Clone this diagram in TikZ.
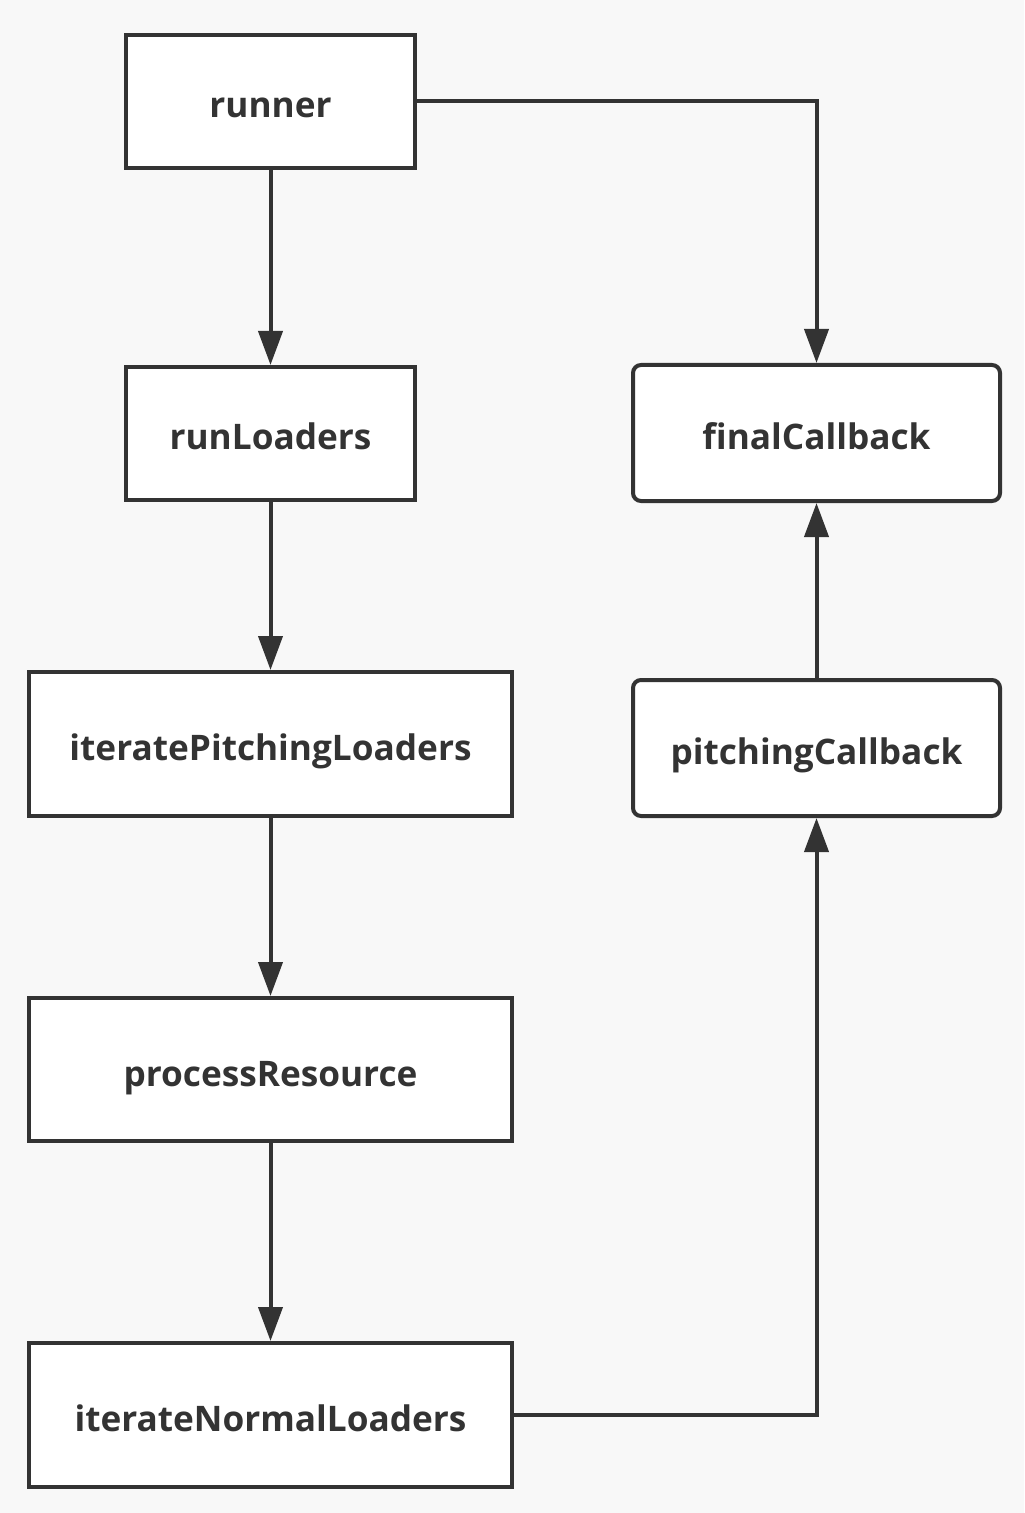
\documentclass[tikz,border=0pt]{standalone}
\usepackage{fontspec}
\setmainfont{Open Sans}
\usetikzlibrary{arrows.meta}
\definecolor{ink}{HTML}{333333}
\definecolor{bg}{HTML}{F8F8F8}
\begin{document}
\begin{tikzpicture}[x=0.5pt,y=-0.5pt,
  box/.style={draw=ink, line width=2pt, fill=white, text=ink, font=\fontsize{17.6}{20}\selectfont\bfseries, inner sep=0pt, text height=16.5pt, text depth=0pt},
  rbox/.style={box, rounded corners=4pt},
  conn/.style={draw=ink, line width=2pt, -{Triangle[length=17pt,width=12pt]}}]
\fill[bg] (0,0) rectangle (1024,1513);
\useasboundingbox (0,0) rectangle (1024,1513);
\node[box, minimum width=144.5pt, minimum height=66.5pt] (runner) at (270.5,101.5) {runner};
\node[box, minimum width=144.5pt, minimum height=66.5pt] (runLoaders) at (270.5,433.5) {runLoaders};
\node[box, minimum width=241.5pt, minimum height=72pt] (ipl) at (270.5,744) {iteratePitchingLoaders};
\node[box, minimum width=241.5pt, minimum height=71.5pt] (pr) at (270.5,1069.5) {processResource};
\node[box, minimum width=241.5pt, minimum height=72pt] (inl) at (270.5,1415) {iterateNormalLoaders};
\node[rbox, minimum width=183.5pt, minimum height=68pt] (fc) at (816.5,433) {finalCallback};
\node[rbox, minimum width=183.5pt, minimum height=68pt] (pc) at (816.5,748) {pitchingCallback};
\draw[conn] (runner) -- (runLoaders);
\draw[conn] (runLoaders) -- (ipl);
\draw[conn] (ipl) -- (pr);
\draw[conn] (pr) -- (inl);
\draw[conn] (runner.east) -| (fc.north);
\draw[conn] (inl.east) -| (pc.south);
\draw[conn] (pc) -- (fc);
\end{tikzpicture}
\end{document}
